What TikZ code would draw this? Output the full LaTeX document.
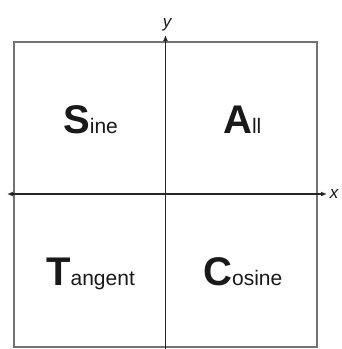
\documentclass[tikz,border=0pt]{standalone}
\usepackage{fontspec}
\setmainfont{Liberation Sans}
\usetikzlibrary{arrows.meta}
\tikzset{
  quad/.style={draw=black!55, line width=1.7pt},
  axis/.style={draw=black!85, line width=1.8pt},
  word/.style={anchor=base west, inner sep=0pt, text=black!90},
  axlabel/.style={inner sep=0pt, font=\fontsize{17}{17}\selectfont\itshape, text=black!90}
}
\newcommand{\capletter}[1]{{\fontsize{40}{40}\selectfont\bfseries #1}}
\newcommand{\restword}[1]{{\fontsize{21}{21}\selectfont #1}}
\begin{document}
\begin{tikzpicture}[x=1pt,y=-1pt]
\useasboundingbox (0,0) rectangle (341,349);
\draw[quad] (14,42) rectangle (317,347);
\coordinate (L) at (7,194);
\coordinate (R) at (327,194);
\coordinate (T) at (165.5,35);
\coordinate (B) at (165.5,350);
\draw[axis, {Latex[length=6pt,width=5pt]}-{Latex[length=6pt,width=5pt]}] (L) -- (R);
\draw[axis, -{Latex[length=6pt,width=5pt]}] (B) -- (T);
\node[axlabel] (xl) at (334,194) {x};
\node[axlabel] (yl) at (167,25) {y};
\node[word] (sine) at (63,133) {\capletter{S}\restword{ine}};
\node[word] (all) at (223,133) {\capletter{A}\restword{ll}};
\node[word] (tan) at (46,285) {\capletter{T}\restword{angent}};
\node[word] (cos) at (203,285) {\capletter{C}\restword{osine}};
\end{tikzpicture}
\end{document}
